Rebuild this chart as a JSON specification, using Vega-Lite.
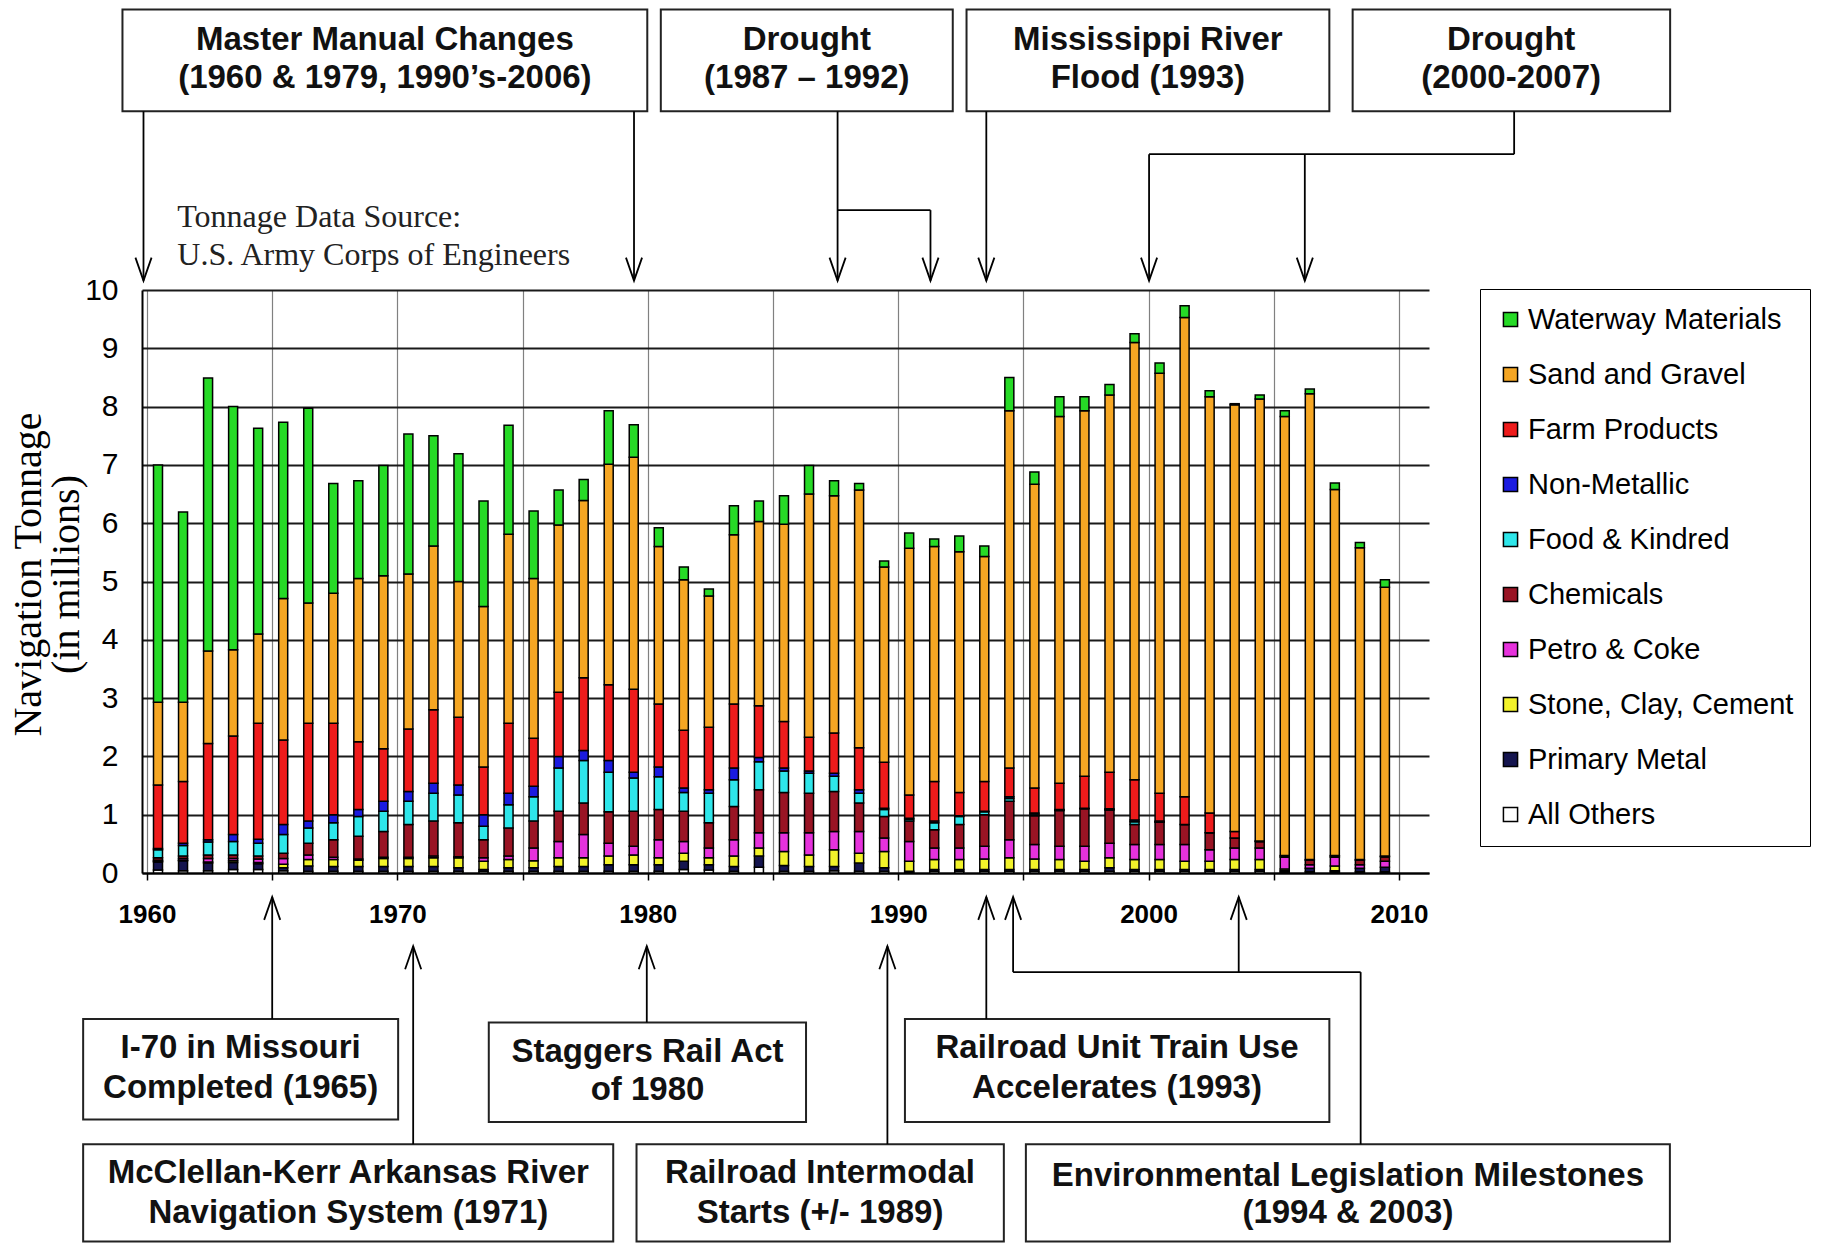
{
  "$schema": "https://vega.github.io/schema/vega-lite/v6.json",
  "width": 1287,
  "height": 583,
  "autosize": {"type": "none"},
  "padding": {"left": 142, "top": 290, "right": 408, "bottom": 371},
  "background": "white",
  "config": {"view": {"stroke": null}},
  "resolve": {"axis": {"x": "independent", "y": "independent"}},
  "datasets": {
    "tons": [
      {"year": 1960, "AO": 0.05, "PM": 0.14, "SCC": 0.01, "PC": 0.02, "CH": 0.04, "FK": 0.14, "NM": 0.02, "FP": 1.09, "SG": 1.42, "WM": 4.07},
      {"year": 1961, "AO": 0.04, "PM": 0.17, "SCC": 0.01, "PC": 0.03, "CH": 0.04, "FK": 0.18, "NM": 0.04, "FP": 1.06, "SG": 1.36, "WM": 3.26},
      {"year": 1962, "AO": 0.04, "PM": 0.13, "SCC": 0.02, "PC": 0.06, "CH": 0.06, "FK": 0.22, "NM": 0.04, "FP": 1.65, "SG": 1.59, "WM": 4.68},
      {"year": 1963, "AO": 0.06, "PM": 0.12, "SCC": 0.03, "PC": 0.04, "CH": 0.06, "FK": 0.23, "NM": 0.12, "FP": 1.69, "SG": 1.48, "WM": 4.17},
      {"year": 1964, "AO": 0.06, "PM": 0.10, "SCC": 0.02, "PC": 0.06, "CH": 0.05, "FK": 0.22, "NM": 0.07, "FP": 1.99, "SG": 1.53, "WM": 3.53},
      {"year": 1965, "AO": 0.04, "PM": 0.05, "SCC": 0.06, "PC": 0.10, "CH": 0.09, "FK": 0.32, "NM": 0.17, "FP": 1.45, "SG": 2.43, "WM": 3.02},
      {"year": 1966, "AO": 0.03, "PM": 0.09, "SCC": 0.11, "PC": 0.08, "CH": 0.20, "FK": 0.26, "NM": 0.12, "FP": 1.68, "SG": 2.06, "WM": 3.34},
      {"year": 1967, "AO": 0.03, "PM": 0.08, "SCC": 0.12, "PC": 0.04, "CH": 0.30, "FK": 0.29, "NM": 0.14, "FP": 1.57, "SG": 2.23, "WM": 1.88},
      {"year": 1968, "AO": 0.03, "PM": 0.08, "SCC": 0.11, "PC": 0.02, "CH": 0.39, "FK": 0.34, "NM": 0.12, "FP": 1.16, "SG": 2.80, "WM": 1.68},
      {"year": 1969, "AO": 0.03, "PM": 0.08, "SCC": 0.14, "PC": 0.02, "CH": 0.44, "FK": 0.35, "NM": 0.17, "FP": 0.90, "SG": 2.97, "WM": 1.89},
      {"year": 1970, "AO": 0.03, "PM": 0.08, "SCC": 0.14, "PC": 0.02, "CH": 0.56, "FK": 0.40, "NM": 0.17, "FP": 1.07, "SG": 2.66, "WM": 2.40},
      {"year": 1971, "AO": 0.03, "PM": 0.08, "SCC": 0.15, "PC": 0.03, "CH": 0.60, "FK": 0.48, "NM": 0.17, "FP": 1.26, "SG": 2.81, "WM": 1.89},
      {"year": 1972, "AO": 0.03, "PM": 0.06, "SCC": 0.17, "PC": 0.02, "CH": 0.58, "FK": 0.48, "NM": 0.17, "FP": 1.16, "SG": 2.33, "WM": 2.19},
      {"year": 1973, "AO": 0.03, "PM": 0.03, "SCC": 0.14, "PC": 0.06, "CH": 0.31, "FK": 0.23, "NM": 0.20, "FP": 0.82, "SG": 2.75, "WM": 1.81},
      {"year": 1974, "AO": 0.03, "PM": 0.06, "SCC": 0.14, "PC": 0.06, "CH": 0.48, "FK": 0.40, "NM": 0.20, "FP": 1.20, "SG": 3.24, "WM": 1.87},
      {"year": 1975, "AO": 0.03, "PM": 0.06, "SCC": 0.12, "PC": 0.22, "CH": 0.46, "FK": 0.42, "NM": 0.18, "FP": 0.82, "SG": 2.74, "WM": 1.16},
      {"year": 1976, "AO": 0.03, "PM": 0.08, "SCC": 0.15, "PC": 0.28, "CH": 0.52, "FK": 0.74, "NM": 0.20, "FP": 1.10, "SG": 2.87, "WM": 0.60},
      {"year": 1977, "AO": 0.03, "PM": 0.08, "SCC": 0.15, "PC": 0.40, "CH": 0.54, "FK": 0.73, "NM": 0.17, "FP": 1.25, "SG": 3.04, "WM": 0.36},
      {"year": 1978, "AO": 0.03, "PM": 0.11, "SCC": 0.15, "PC": 0.22, "CH": 0.54, "FK": 0.68, "NM": 0.20, "FP": 1.30, "SG": 3.78, "WM": 0.92},
      {"year": 1979, "AO": 0.03, "PM": 0.11, "SCC": 0.17, "PC": 0.15, "CH": 0.60, "FK": 0.57, "NM": 0.10, "FP": 1.42, "SG": 3.98, "WM": 0.56},
      {"year": 1980, "AO": 0.03, "PM": 0.11, "SCC": 0.12, "PC": 0.31, "CH": 0.52, "FK": 0.56, "NM": 0.17, "FP": 1.08, "SG": 2.70, "WM": 0.32},
      {"year": 1981, "AO": 0.06, "PM": 0.14, "SCC": 0.14, "PC": 0.20, "CH": 0.52, "FK": 0.32, "NM": 0.08, "FP": 0.99, "SG": 2.58, "WM": 0.22},
      {"year": 1982, "AO": 0.05, "PM": 0.09, "SCC": 0.12, "PC": 0.17, "CH": 0.43, "FK": 0.51, "NM": 0.06, "FP": 1.07, "SG": 2.25, "WM": 0.12},
      {"year": 1983, "AO": 0.03, "PM": 0.08, "SCC": 0.18, "PC": 0.28, "CH": 0.57, "FK": 0.46, "NM": 0.20, "FP": 1.10, "SG": 2.90, "WM": 0.50},
      {"year": 1984, "AO": 0.10, "PM": 0.19, "SCC": 0.14, "PC": 0.26, "CH": 0.74, "FK": 0.48, "NM": 0.07, "FP": 0.89, "SG": 3.16, "WM": 0.35},
      {"year": 1985, "AO": 0.03, "PM": 0.10, "SCC": 0.24, "PC": 0.32, "CH": 0.69, "FK": 0.37, "NM": 0.05, "FP": 0.80, "SG": 3.38, "WM": 0.49},
      {"year": 1986, "AO": 0.03, "PM": 0.08, "SCC": 0.20, "PC": 0.38, "CH": 0.68, "FK": 0.34, "NM": 0.04, "FP": 0.58, "SG": 4.17, "WM": 0.49},
      {"year": 1987, "AO": 0.04, "PM": 0.07, "SCC": 0.29, "PC": 0.31, "CH": 0.69, "FK": 0.26, "NM": 0.05, "FP": 0.69, "SG": 4.07, "WM": 0.26},
      {"year": 1988, "AO": 0.03, "PM": 0.14, "SCC": 0.17, "PC": 0.37, "CH": 0.49, "FK": 0.17, "NM": 0.06, "FP": 0.72, "SG": 4.42, "WM": 0.11},
      {"year": 1989, "AO": 0.03, "PM": 0.06, "SCC": 0.28, "PC": 0.23, "CH": 0.37, "FK": 0.12, "NM": 0.02, "FP": 0.79, "SG": 3.35, "WM": 0.10},
      {"year": 1990, "AO": 0.01, "PM": 0.02, "SCC": 0.17, "PC": 0.34, "CH": 0.35, "FK": 0.03, "NM": 0.02, "FP": 0.40, "SG": 4.23, "WM": 0.26},
      {"year": 1991, "AO": 0.03, "PM": 0.03, "SCC": 0.17, "PC": 0.20, "CH": 0.31, "FK": 0.12, "NM": 0.03, "FP": 0.68, "SG": 4.03, "WM": 0.13},
      {"year": 1992, "AO": 0.03, "PM": 0.03, "SCC": 0.17, "PC": 0.20, "CH": 0.40, "FK": 0.14, "NM": 0.01, "FP": 0.40, "SG": 4.13, "WM": 0.27},
      {"year": 1993, "AO": 0.03, "PM": 0.03, "SCC": 0.18, "PC": 0.22, "CH": 0.54, "FK": 0.05, "NM": 0.01, "FP": 0.51, "SG": 3.86, "WM": 0.18},
      {"year": 1994, "AO": 0.03, "PM": 0.03, "SCC": 0.20, "PC": 0.31, "CH": 0.66, "FK": 0.05, "NM": 0.03, "FP": 0.49, "SG": 6.13, "WM": 0.57},
      {"year": 1995, "AO": 0.03, "PM": 0.03, "SCC": 0.18, "PC": 0.25, "CH": 0.49, "FK": 0.03, "NM": 0.02, "FP": 0.43, "SG": 5.21, "WM": 0.21},
      {"year": 1996, "AO": 0.03, "PM": 0.03, "SCC": 0.17, "PC": 0.23, "CH": 0.61, "FK": 0.01, "NM": 0.01, "FP": 0.45, "SG": 6.29, "WM": 0.34},
      {"year": 1997, "AO": 0.03, "PM": 0.03, "SCC": 0.14, "PC": 0.26, "CH": 0.64, "FK": 0.01, "NM": 0.00, "FP": 0.55, "SG": 6.27, "WM": 0.24},
      {"year": 1998, "AO": 0.03, "PM": 0.06, "SCC": 0.17, "PC": 0.25, "CH": 0.57, "FK": 0.01, "NM": 0.01, "FP": 0.63, "SG": 6.47, "WM": 0.18},
      {"year": 1999, "AO": 0.03, "PM": 0.03, "SCC": 0.17, "PC": 0.26, "CH": 0.34, "FK": 0.05, "NM": 0.03, "FP": 0.69, "SG": 7.50, "WM": 0.15},
      {"year": 2000, "AO": 0.03, "PM": 0.03, "SCC": 0.17, "PC": 0.26, "CH": 0.38, "FK": 0.01, "NM": 0.01, "FP": 0.48, "SG": 7.20, "WM": 0.18},
      {"year": 2001, "AO": 0.03, "PM": 0.03, "SCC": 0.14, "PC": 0.29, "CH": 0.34, "FK": 0.00, "NM": 0.00, "FP": 0.48, "SG": 8.22, "WM": 0.20},
      {"year": 2002, "AO": 0.03, "PM": 0.03, "SCC": 0.14, "PC": 0.20, "CH": 0.29, "FK": 0.00, "NM": 0.00, "FP": 0.34, "SG": 7.14, "WM": 0.10},
      {"year": 2003, "AO": 0.03, "PM": 0.03, "SCC": 0.17, "PC": 0.20, "CH": 0.17, "FK": 0.00, "NM": 0.00, "FP": 0.11, "SG": 7.32, "WM": 0.02},
      {"year": 2004, "AO": 0.03, "PM": 0.03, "SCC": 0.17, "PC": 0.20, "CH": 0.11, "FK": 0.00, "NM": 0.00, "FP": 0.01, "SG": 7.58, "WM": 0.07},
      {"year": 2005, "AO": 0.02, "PM": 0.02, "SCC": 0.03, "PC": 0.20, "CH": 0.02, "FK": 0.00, "NM": 0.00, "FP": 0.01, "SG": 7.53, "WM": 0.10},
      {"year": 2006, "AO": 0.02, "PM": 0.06, "SCC": 0.00, "PC": 0.06, "CH": 0.08, "FK": 0.00, "NM": 0.00, "FP": 0.01, "SG": 7.99, "WM": 0.08},
      {"year": 2007, "AO": 0.02, "PM": 0.02, "SCC": 0.08, "PC": 0.15, "CH": 0.02, "FK": 0.00, "NM": 0.00, "FP": 0.01, "SG": 6.28, "WM": 0.11},
      {"year": 2008, "AO": 0.02, "PM": 0.06, "SCC": 0.00, "PC": 0.06, "CH": 0.08, "FK": 0.00, "NM": 0.00, "FP": 0.01, "SG": 5.35, "WM": 0.09},
      {"year": 2009, "AO": 0.02, "PM": 0.08, "SCC": 0.00, "PC": 0.10, "CH": 0.08, "FK": 0.00, "NM": 0.00, "FP": 0.01, "SG": 4.61, "WM": 0.13}
    ],
    "cats": [
      {"k": "AO", "name": "All Others", "rank": 0},
      {"k": "PM", "name": "Primary Metal", "rank": 1},
      {"k": "SCC", "name": "Stone, Clay, Cement", "rank": 2},
      {"k": "PC", "name": "Petro & Coke", "rank": 3},
      {"k": "CH", "name": "Chemicals", "rank": 4},
      {"k": "FK", "name": "Food & Kindred", "rank": 5},
      {"k": "NM", "name": "Non-Metallic", "rank": 6},
      {"k": "FP", "name": "Farm Products", "rank": 7},
      {"k": "SG", "name": "Sand and Gravel", "rank": 8},
      {"k": "WM", "name": "Waterway Materials", "rank": 9}
    ],
    "boxes": [
      {"x": 1959.02, "x2": 1979.98, "y": 13.064, "y2": 14.81},
      {"x": 1980.52, "x2": 1992.18, "y": 13.064, "y2": 14.81},
      {"x": 1992.73, "x2": 2007.22, "y": 13.064, "y2": 14.81},
      {"x": 2008.15, "x2": 2020.83, "y": 13.064, "y2": 14.81},
      {"x": 1957.45, "x2": 1970.03, "y": -4.229, "y2": -2.503},
      {"x": 1957.45, "x2": 1978.62, "y": -6.32, "y2": -4.651},
      {"x": 1973.65, "x2": 1986.32, "y": -4.27, "y2": -2.563},
      {"x": 1979.55, "x2": 1994.22, "y": -6.32, "y2": -4.651},
      {"x": 1990.27, "x2": 2007.22, "y": -4.27, "y2": -2.503},
      {"x": 1995.1, "x2": 2020.82, "y": -6.32, "y2": -4.651}
    ],
    "lines": [
      {"x": 1959.86, "y": 13.064, "x2": 1959.86, "y2": 10.16},
      {"x": 1979.45, "y": 13.064, "x2": 1979.45, "y2": 10.16},
      {"x": 1987.58, "y": 13.064, "x2": 1987.58, "y2": 10.16},
      {"x": 1987.58, "y": 11.37, "x2": 1991.29, "y2": 11.37},
      {"x": 1991.29, "y": 11.37, "x2": 1991.29, "y2": 10.16},
      {"x": 1993.52, "y": 13.064, "x2": 1993.52, "y2": 10.16},
      {"x": 2014.6, "y": 13.064, "x2": 2014.6, "y2": 12.33},
      {"x": 2000.02, "y": 12.33, "x2": 2014.6, "y2": 12.33},
      {"x": 2000.02, "y": 12.33, "x2": 2000.02, "y2": 10.16},
      {"x": 2006.24, "y": 12.33, "x2": 2006.24, "y2": 10.16},
      {"x": 1965.0, "y": -2.503, "x2": 1965.0, "y2": -0.41},
      {"x": 1970.63, "y": -4.651, "x2": 1970.63, "y2": -1.257},
      {"x": 1979.96, "y": -2.563, "x2": 1979.96, "y2": -1.257},
      {"x": 1989.57, "y": -4.651, "x2": 1989.57, "y2": -1.257},
      {"x": 1993.52, "y": -2.503, "x2": 1993.52, "y2": -0.41},
      {"x": 1994.59, "y": -1.7, "x2": 1994.59, "y2": -0.41},
      {"x": 2003.6, "y": -1.7, "x2": 2003.6, "y2": -0.41},
      {"x": 1994.59, "y": -1.7, "x2": 2008.47, "y2": -1.7},
      {"x": 2008.47, "y": -1.7, "x2": 2008.47, "y2": -4.651}
    ],
    "heads": [
      {"x": 1959.86, "y": 10.16, "dir": "down"},
      {"x": 1979.45, "y": 10.16, "dir": "down"},
      {"x": 1987.58, "y": 10.16, "dir": "down"},
      {"x": 1991.29, "y": 10.16, "dir": "down"},
      {"x": 1993.52, "y": 10.16, "dir": "down"},
      {"x": 2000.02, "y": 10.16, "dir": "down"},
      {"x": 2006.24, "y": 10.16, "dir": "down"},
      {"x": 1965.0, "y": -0.41, "dir": "up"},
      {"x": 1970.63, "y": -1.257, "dir": "up"},
      {"x": 1979.96, "y": -1.257, "dir": "up"},
      {"x": 1989.57, "y": -1.257, "dir": "up"},
      {"x": 1993.52, "y": -0.41, "dir": "up"},
      {"x": 1994.59, "y": -0.41, "dir": "up"},
      {"x": 2003.6, "y": -0.41, "dir": "up"}
    ],
    "btext": [
      {"x": 1969.5, "y": 14.29, "text": "Master Manual Changes"},
      {"x": 1969.5, "y": 13.64, "text": "(1960 & 1979, 1990’s-2006)"},
      {"x": 1986.35, "y": 14.29, "text": "Drought"},
      {"x": 1986.35, "y": 13.64, "text": "(1987 – 1992)"},
      {"x": 1999.97, "y": 14.29, "text": "Mississippi River"},
      {"x": 1999.97, "y": 13.64, "text": "Flood (1993)"},
      {"x": 2014.48, "y": 14.29, "text": "Drought"},
      {"x": 2014.48, "y": 13.64, "text": "(2000-2007)"},
      {"x": 1963.74, "y": -3.005, "text": "I-70 in Missouri"},
      {"x": 1963.74, "y": -3.688, "text": "Completed (1965)"},
      {"x": 1979.99, "y": -3.07, "text": "Staggers Rail Act"},
      {"x": 1979.99, "y": -3.73, "text": "of 1980"},
      {"x": 1998.74, "y": -3.005, "text": "Railroad Unit Train Use"},
      {"x": 1998.74, "y": -3.688, "text": "Accelerates (1993)"},
      {"x": 1968.04, "y": -5.15, "text": "McClellan-Kerr Arkansas River"},
      {"x": 1968.04, "y": -5.84, "text": "Navigation System (1971)"},
      {"x": 1986.88, "y": -5.15, "text": "Railroad Intermodal"},
      {"x": 1986.88, "y": -5.84, "text": "Starts (+/- 1989)"},
      {"x": 2007.96, "y": -5.19, "text": "Environmental Legislation Milestones"},
      {"x": 2007.96, "y": -5.84, "text": "(1994 & 2003)"}
    ],
    "stext": [
      {"x": 1961.21, "y": 11.26, "text": "Tonnage Data Source:"},
      {"x": 1961.21, "y": 10.6, "text": "U.S. Army Corps of Engineers"}
    ]
  },
  "layer": [
    {
      "data": {"name": "tons"},
      "transform": [
        {"fold": ["AO", "PM", "SCC", "PC", "CH", "FK", "NM", "FP", "SG", "WM"], "as": ["key", "value"]},
        {"lookup": "key", "from": {"data": {"name": "cats"}, "key": "k", "fields": ["name", "rank"]}}
      ],
      "mark": {"type": "bar", "width": 9, "xOffset": 11, "stroke": "black", "strokeWidth": 1.5},
      "encoding": {
        "x": {
          "field": "year", "type": "quantitative",
          "scale": {"domain": [1960, 2011], "nice": false, "zero": false},
          "axis": {
            "values": [1960, 1965, 1970, 1975, 1980, 1985, 1990, 1995, 2000, 2005, 2010],
            "format": "d",
            "labelExpr": "datum.value % 10 === 0 ? datum.label : ''",
            "title": null,
            "grid": true, "gridColor": "#808080", "gridWidth": 1.2,
            "ticks": true, "tickSize": 7, "tickColor": "black", "tickWidth": 1.5,
            "domainColor": "black", "domainWidth": 2,
            "labelFont": "Liberation Sans", "labelFontSize": 26, "labelFontWeight": "bold",
            "labelColor": "black", "labelPadding": 21, "labelFlush": false, "labelOverlap": false
          }
        },
        "y": {
          "field": "value", "type": "quantitative", "stack": "zero",
          "scale": {"domain": [0, 10], "nice": false, "zero": false},
          "axis": {
            "values": [0, 1, 2, 3, 4, 5, 6, 7, 8, 9, 10],
            "title": ["Navigation Tonnage", "(in millions)"],
            "titleFont": "Liberation Serif", "titleFontSize": 40, "titleFontWeight": "normal",
            "titleColor": "black", "titleAngle": -90, "titleX": -114, "titleY": 284,
            "titleAlign": "center", "titleBaseline": "middle", "titleLineHeight": 38,
            "grid": true, "gridColor": "#1a1a1a", "gridWidth": 2,
            "ticks": false,
            "domainColor": "black", "domainWidth": 2,
            "labelFont": "Liberation Sans", "labelFontSize": 30, "labelColor": "black",
            "labelPadding": 24
          }
        },
        "color": {
          "field": "name", "type": "nominal",
          "scale": {
            "domain": ["Waterway Materials", "Sand and Gravel", "Farm Products", "Non-Metallic", "Food & Kindred", "Chemicals", "Petro & Coke", "Stone, Clay, Cement", "Primary Metal", "All Others"],
            "range": ["#26DA26", "#F5A623", "#EE1B1B", "#1B1BE0", "#2EE6EA", "#991424", "#E632DC", "#F2F22A", "#15154F", "#FFFFFF"]
          },
          "legend": {
            "title": null, "orient": "none", "legendX": 1338, "legendY": -1,
            "strokeColor": "black", "fillColor": "white",
            "padding": 16, "rowPadding": 25,
            "labelFont": "Liberation Sans", "labelFontSize": 29, "labelColor": "black",
            "labelLimit": 500, "labelOffset": 3,
            "symbolType": "square", "symbolSize": 200,
            "symbolStrokeColor": "black", "symbolStrokeWidth": 1.5
          }
        },
        "order": {"field": "rank", "type": "quantitative"}
      }
    },
    {
      "data": {"name": "boxes"},
      "mark": {"type": "rect", "fill": "white", "stroke": "#222222", "strokeWidth": 2},
      "encoding": {
        "x": {"field": "x", "type": "quantitative", "scale": {"domain": [1960, 2011], "nice": false, "zero": false}, "axis": null},
        "x2": {"field": "x2"},
        "y": {"field": "y", "type": "quantitative", "scale": {"domain": [0, 10], "nice": false, "zero": false}, "axis": null},
        "y2": {"field": "y2"}
      }
    },
    {
      "data": {"name": "lines"},
      "mark": {"type": "rule", "color": "black", "strokeWidth": 1.8},
      "encoding": {
        "x": {"field": "x", "type": "quantitative", "scale": {"domain": [1960, 2011], "nice": false, "zero": false}, "axis": null},
        "x2": {"field": "x2"},
        "y": {"field": "y", "type": "quantitative", "scale": {"domain": [0, 10], "nice": false, "zero": false}, "axis": null},
        "y2": {"field": "y2"}
      }
    },
    {
      "data": {"name": "heads"},
      "mark": {"type": "point", "filled": false, "color": "black", "strokeWidth": 1.8, "size": 529, "opacity": 1},
      "encoding": {
        "x": {"field": "x", "type": "quantitative", "scale": {"domain": [1960, 2011], "nice": false, "zero": false}, "axis": null},
        "y": {"field": "y", "type": "quantitative", "scale": {"domain": [0, 10], "nice": false, "zero": false}, "axis": null},
        "shape": {
          "field": "dir", "type": "nominal",
          "scale": {"domain": ["down", "up"], "range": ["M-0.7,-2L0,0L0.7,-2", "M-0.7,2L0,0L0.7,2"]},
          "legend": null
        }
      }
    },
    {
      "data": {"name": "btext"},
      "mark": {"type": "text", "font": "Liberation Sans", "fontSize": 33, "fontWeight": "bold", "align": "center", "baseline": "middle", "color": "#111111"},
      "encoding": {
        "x": {"field": "x", "type": "quantitative", "scale": {"domain": [1960, 2011], "nice": false, "zero": false}, "axis": null},
        "y": {"field": "y", "type": "quantitative", "scale": {"domain": [0, 10], "nice": false, "zero": false}, "axis": null},
        "text": {"field": "text"}
      }
    },
    {
      "data": {"name": "stext"},
      "mark": {"type": "text", "font": "Liberation Serif", "fontSize": 32, "align": "left", "baseline": "middle", "color": "#222222"},
      "encoding": {
        "x": {"field": "x", "type": "quantitative", "scale": {"domain": [1960, 2011], "nice": false, "zero": false}, "axis": null},
        "y": {"field": "y", "type": "quantitative", "scale": {"domain": [0, 10], "nice": false, "zero": false}, "axis": null},
        "text": {"field": "text"}
      }
    }
  ]
}
